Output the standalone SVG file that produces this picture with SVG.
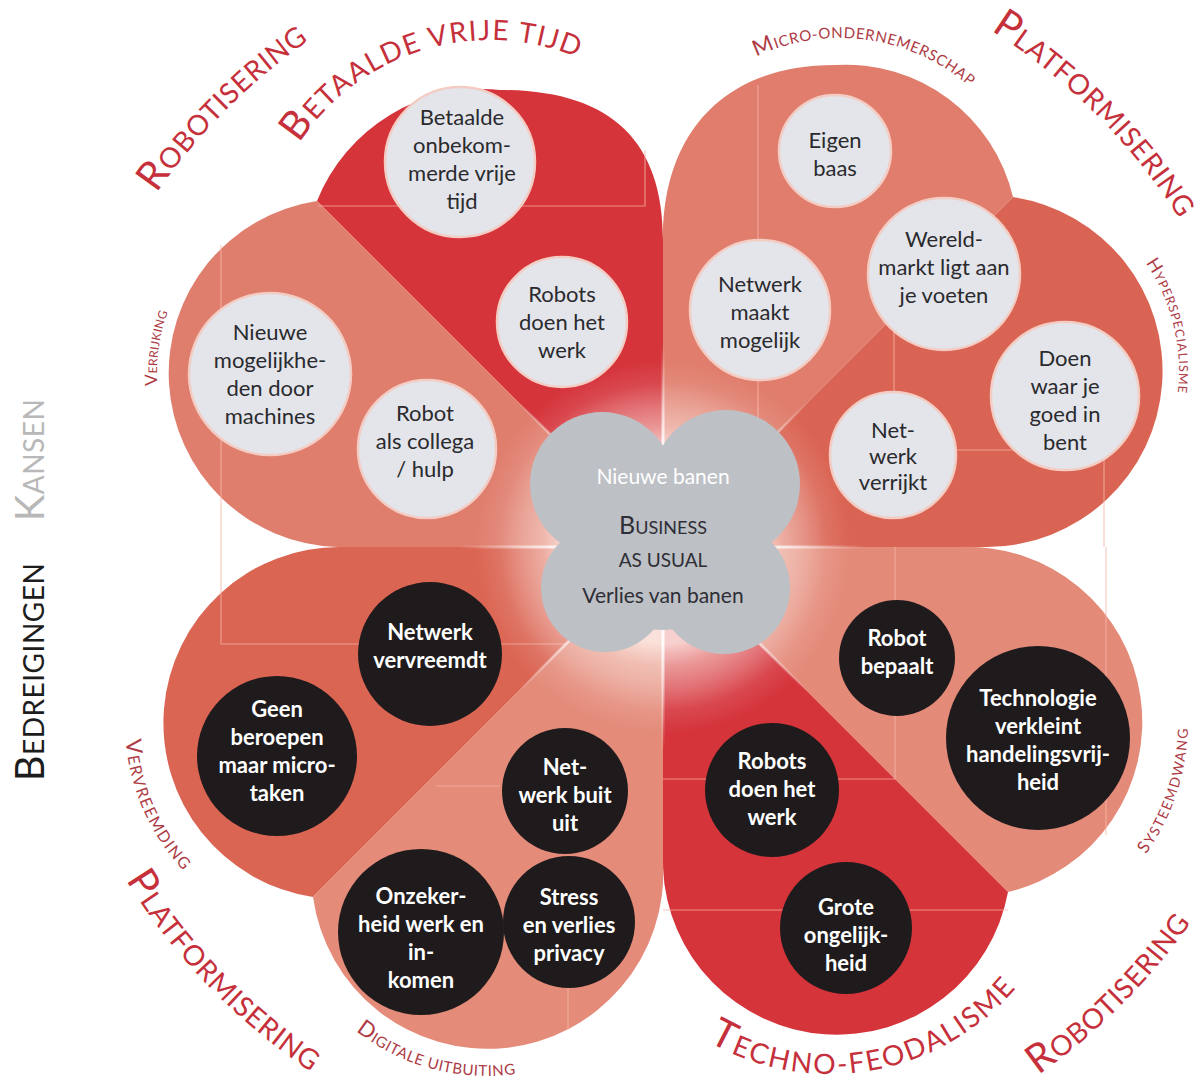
<svg xmlns="http://www.w3.org/2000/svg" width="1203" height="1082" viewBox="0 0 1203 1082">
<defs>
<style>
.f{font-family:Lato,'Open Sans','Liberation Sans',sans-serif}
.big{fill:#c5303b;font-size:28px;letter-spacing:0.6px}
.big .c{font-size:40px}
.sm{fill:#ad3a44;font-size:15px;letter-spacing:0.6px}
.sm .c{font-size:22px}
.nt{font-family:Lato,'Open Sans','Liberation Sans',sans-serif;font-size:22px;text-anchor:middle}
.lt{fill:#2a2a2e}
.dt{fill:#ffffff;font-weight:700}
.lc{fill:#e3e5ea;stroke:#f3cdc4;stroke-width:2.5}
.dc{fill:#1f1b1c}
.grid{fill:none;stroke:#f6b6a8;stroke-width:1.2;opacity:.7}
.cl{fill:#bdc0c5}
</style>
<radialGradient id="fade" gradientUnits="userSpaceOnUse" cx="663" cy="547" r="240">
<stop offset="0.4" stop-color="#fff3ef" stop-opacity="0.82"/>
<stop offset="0.5" stop-color="#fbe6e0" stop-opacity="0.55"/>
<stop offset="0.68" stop-color="#ffffff" stop-opacity="0.1"/>
<stop offset="0.78" stop-color="#ffffff" stop-opacity="0"/>
</radialGradient>
<radialGradient id="streak" gradientUnits="userSpaceOnUse" cx="663" cy="547" r="240">
<stop offset="0.4" stop-color="#ffffff" stop-opacity="0.9"/>
<stop offset="0.85" stop-color="#ffffff" stop-opacity="0"/>
</radialGradient>
<path id="p1" d="M82.3,335.6 A618,618 0 0 1 451.6,-33.7"/>
<path id="p2" d="M872.3,-28.1 A612,612 0 0 1 1238.1,337.7"/>
<path id="p3" d="M65.4,752.8 A632,632 0 0 0 436.5,1137"/>
<path id="p4" d="M884.6,1155.9 A648,648 0 0 0 1271.9,768.6"/>
<path id="p5" d="M262.3,256.1 A228,228 0 0 1 672.1,130.8"/>
<path id="p6" d="M618.7,952 A244,244 0 0 0 1070.3,872.4"/>
<path id="p7" d="M684.8,113.7 A197,197 0 0 1 1022.7,161.2"/>
<path id="p8" d="M280.3,917.4 A214,214 0 0 0 638.3,1013.3"/>
<path id="p9" d="M166.3,596 A216,216 0 0 0 318.4,937.8"/>
<path id="p10" d="M184.4,468.4 A180,180 0 0 1 216.6,239.2"/>
<path id="p11" d="M1086.5,206.8 A192,192 0 0 1 1151.2,470.5"/>
<path id="p12" d="M1079.3,916.8 A229,229 0 0 0 1171.8,637.3"/>
</defs>

<rect width="1203" height="1082" fill="#ffffff"/>

<g id="petals">
<path id="petal-betaalde" d="M663,547 L663,240 C663,140 610,90 500,90 A178,178 0 0 0 317,201 Z" fill="#d5343b"/>
<path id="petal-verrijking" d="M663,547 L337,547 A174,174 0 0 1 317,201 Z" fill="#e07e6e"/>
<path id="petal-micro" d="M663,547 L663,238 C663,135 722,65 835,65 A172,172 0 0 1 1013,197 Z" fill="#e07d6c"/>
<path id="petal-hyper" d="M663,547 L987,547 A176,176 0 0 0 1013,197 Z" fill="#da6453"/>
<path id="petal-systeem" d="M663,547 L959,547 A175,175 0 0 1 1008,892 Z" fill="#e48a79"/>
<path id="petal-techno" d="M663,547 L663,868 A174,174 0 0 0 1008,892 Z" fill="#d5343b"/>
<path id="petal-vervreemding" d="M663,547 L341,547 A176,176 0 0 0 313,897 Z" fill="#db6553"/>
<path id="petal-digitale" d="M663,547 L663,862 A176,176 0 0 1 313,897 Z" fill="#e48b7a"/>
</g>

<g id="gridlines" class="grid">
<path d="M318,206 H645 V150"/>
<path d="M221,245 V547"/>
<path d="M758,85 V540"/>
<path d="M894,330 V450 H1104 V547"/>
<path d="M895,547 V779 H663"/>
<path d="M1106,547 V835"/>
<path d="M663,910 H1008"/>
<path d="M221,547 V644 H565"/>
<path d="M436,786 H500"/>
<path d="M568,861 V1030"/>
</g>

<circle id="center-fade" cx="663" cy="547" r="240" fill="url(#fade)"/>
<g id="streaks" stroke="url(#streak)" stroke-width="3" fill="none">
<path d="M663,547 V307 M663,547 V787 M663,547 H423 M663,547 H903 M663,547 L493,377 M663,547 L833,377 M663,547 L493,717 M663,547 L833,717"/>
</g>

<g id="connectors"></g>

<g id="node-betaalde">
<circle class="lc" cx="460" cy="162" r="75"/>
<text class="nt lt"><tspan x="462" y="124.5">Betaalde</tspan><tspan x="462" y="152.5">onbekom-</tspan><tspan x="462" y="180.5">merde vrije</tspan><tspan x="462" y="208.5">tijd</tspan></text>
</g>
<g id="node-robots-werk-kans">
<circle class="lc" cx="562" cy="322" r="65"/>
<text class="nt lt"><tspan x="562" y="301.5">Robots</tspan><tspan x="562" y="329.5">doen het</tspan><tspan x="562" y="357.5">werk</tspan></text>
</g>
<g id="node-nieuwe-mogelijkheden">
<circle class="lc" cx="270" cy="374" r="81"/>
<text class="nt lt"><tspan x="270" y="339.5">Nieuwe</tspan><tspan x="270" y="367.5">mogelijkhe-</tspan><tspan x="270" y="395.5">den door</tspan><tspan x="270" y="423.5">machines</tspan></text>
</g>
<g id="node-robot-collega">
<circle class="lc" cx="427" cy="449" r="69"/>
<text class="nt lt"><tspan x="425" y="420.5">Robot</tspan><tspan x="425" y="448.5">als collega</tspan><tspan x="425" y="476.5">/ hulp</tspan></text>
</g>
<g id="node-eigen-baas">
<circle class="lc" cx="835" cy="151" r="56"/>
<text class="nt lt"><tspan x="835" y="147.5">Eigen</tspan><tspan x="835" y="175.5">baas</tspan></text>
</g>
<g id="node-netwerk-maakt">
<circle class="lc" cx="760" cy="310" r="70"/>
<text class="nt lt"><tspan x="760" y="291.5">Netwerk</tspan><tspan x="760" y="319.5">maakt</tspan><tspan x="760" y="347.5">mogelijk</tspan></text>
</g>
<g id="node-wereldmarkt">
<circle class="lc" cx="944" cy="274" r="76"/>
<text class="nt lt"><tspan x="944" y="246.5">Wereld-</tspan><tspan x="944" y="274.5">markt ligt aan</tspan><tspan x="944" y="302.5">je voeten</tspan></text>
</g>
<g id="node-doen-waar">
<circle class="lc" cx="1065" cy="396" r="74"/>
<text class="nt lt"><tspan x="1065" y="365.5">Doen</tspan><tspan x="1065" y="393.5">waar je</tspan><tspan x="1065" y="421.5">goed in</tspan><tspan x="1065" y="449.5">bent</tspan></text>
</g>
<g id="node-netwerk-verrijkt">
<circle class="lc" cx="893" cy="455" r="63"/>
<text class="nt lt"><tspan x="893" y="437.5">Net-</tspan><tspan x="893" y="463.5">werk</tspan><tspan x="893" y="489.5">verrijkt</tspan></text>
</g>

<g id="node-netwerk-vervreemdt">
<circle class="dc" cx="430" cy="654" r="72"/>
<text class="nt dt"><tspan x="430" y="639.5">Netwerk</tspan><tspan x="430" y="667.5">vervreemdt</tspan></text>
</g>
<g id="node-geen-beroepen">
<circle class="dc" cx="277" cy="756" r="80"/>
<text class="nt dt"><tspan x="277" y="716.5">Geen</tspan><tspan x="277" y="744.5">beroepen</tspan><tspan x="277" y="772.5">maar micro-</tspan><tspan x="277" y="800.5">taken</tspan></text>
</g>
<g id="node-netwerk-buit">
<circle class="dc" cx="565" cy="791" r="63"/>
<text class="nt dt"><tspan x="565" y="774.5">Net-</tspan><tspan x="565" y="802.5">werk buit</tspan><tspan x="565" y="830.5">uit</tspan></text>
</g>
<g id="node-onzekerheid">
<circle class="dc" cx="421" cy="932" r="83"/>
<text class="nt dt"><tspan x="421" y="903.5">Onzeker-</tspan><tspan x="421" y="931.5">heid werk en</tspan><tspan x="421" y="959.5">in-</tspan><tspan x="421" y="987.5">komen</tspan></text>
</g>
<g id="node-stress">
<circle class="dc" cx="569" cy="922" r="66"/>
<text class="nt dt"><tspan x="569" y="904.5">Stress</tspan><tspan x="569" y="932.5">en verlies</tspan><tspan x="569" y="960.5">privacy</tspan></text>
</g>
<g id="node-robot-bepaalt">
<circle class="dc" cx="897" cy="658" r="58"/>
<text class="nt dt"><tspan x="897" y="645.5">Robot</tspan><tspan x="897" y="673.5">bepaalt</tspan></text>
</g>
<g id="node-technologie">
<circle class="dc" cx="1038" cy="738" r="92"/>
<text class="nt dt"><tspan x="1038" y="705.5">Technologie</tspan><tspan x="1038" y="733.5">verkleint</tspan><tspan x="1038" y="761.5">handelingsvrij-</tspan><tspan x="1038" y="789.5">heid</tspan></text>
</g>
<g id="node-robots-werk-bedreiging">
<circle class="dc" cx="772" cy="790" r="67"/>
<text class="nt dt"><tspan x="772" y="768.5">Robots</tspan><tspan x="772" y="796.5">doen het</tspan><tspan x="772" y="824.5">werk</tspan></text>
</g>
<g id="node-grote-ongelijkheid">
<circle class="dc" cx="846" cy="928" r="66"/>
<text class="nt dt"><tspan x="846" y="914.5">Grote</tspan><tspan x="846" y="942.5">ongelijk-</tspan><tspan x="846" y="970.5">heid</tspan></text>
</g>

<g id="node-business-as-usual">
<g class="cl">
<circle cx="602" cy="484" r="72"/>
<circle cx="726" cy="484" r="74"/>
<circle cx="605" cy="588" r="64"/>
<circle cx="724" cy="588" r="66"/>
<circle cx="663" cy="540" r="90"/>
</g>
<text class="f" x="663" y="484" font-size="21" fill="#ffffff" text-anchor="middle">Nieuwe banen</text>
<text class="f" x="663" y="534" font-size="18" fill="#2e2e36" text-anchor="middle"><tspan font-size="25">B</tspan>USINESS</text>
<text class="f" x="663" y="567" font-size="19" fill="#2e2e36" text-anchor="middle">AS USUAL</text>
<text class="f" x="663" y="603" font-size="21" fill="#2e2e36" text-anchor="middle">Verlies van banen</text>
</g>

<g id="labels">
<text class="f big"><textPath href="#p1" startOffset="50%" text-anchor="middle"><tspan class="c">R</tspan>OBOTISERING</textPath></text>
<text class="f big"><textPath href="#p2" startOffset="50%" text-anchor="middle"><tspan class="c">P</tspan>LATFORMISERING</textPath></text>
<text class="f big"><textPath href="#p3" startOffset="50%" text-anchor="middle"><tspan class="c">P</tspan>LATFORMISERING</textPath></text>
<text class="f big"><textPath href="#p4" startOffset="50%" text-anchor="middle"><tspan class="c">R</tspan>OBOTISERING</textPath></text>
<text class="f big" style="letter-spacing:1.5px"><textPath href="#p5" startOffset="50%" text-anchor="middle"><tspan class="c">B</tspan>ETAALDE VRIJE TIJD</textPath></text>
<text class="f big" style="letter-spacing:2px"><textPath href="#p6" startOffset="50%" text-anchor="middle"><tspan class="c">T</tspan>ECHNO-FEODALISME</textPath></text>
<text class="f sm"><textPath href="#p7" startOffset="50%" text-anchor="middle"><tspan class="c">M</tspan>ICRO-ONDERNEMERSCHAP</textPath></text>
<text class="f sm"><textPath href="#p8" startOffset="50%" text-anchor="middle"><tspan class="c">D</tspan>IGITALE UITBUITING</textPath></text>
<text class="f sm" style="font-size:16px;letter-spacing:1.5px"><textPath href="#p9" startOffset="50%" text-anchor="middle"><tspan class="c">V</tspan>ERVREEMDING</textPath></text>
<text class="f sm" style="font-size:12px;letter-spacing:0.4px"><textPath href="#p10" startOffset="50%" text-anchor="middle"><tspan style="font-size:17px">V</tspan>ERRIJKING</textPath></text>
<text class="f sm" style="font-size:12.5px;letter-spacing:1px"><textPath href="#p11" startOffset="50%" text-anchor="middle"><tspan style="font-size:18px">H</tspan>YPERSPECIALISME</textPath></text>
<text class="f sm" style="font-size:14px;letter-spacing:1.5px"><textPath href="#p12" startOffset="50%" text-anchor="middle"><tspan style="font-size:17px">S</tspan>YSTEEMDWANG</textPath></text>
<text class="f" transform="translate(44,460) rotate(-90)" font-size="28" fill="#b8b8b8" text-anchor="middle" letter-spacing="0.5"><tspan font-size="40">K</tspan>ANSEN</text>
<text class="f" transform="translate(44,672) rotate(-90)" font-size="28" fill="#1d1d1d" text-anchor="middle" letter-spacing="0.5"><tspan font-size="40">B</tspan>EDREIGINGEN</text>
</g>
</svg>
